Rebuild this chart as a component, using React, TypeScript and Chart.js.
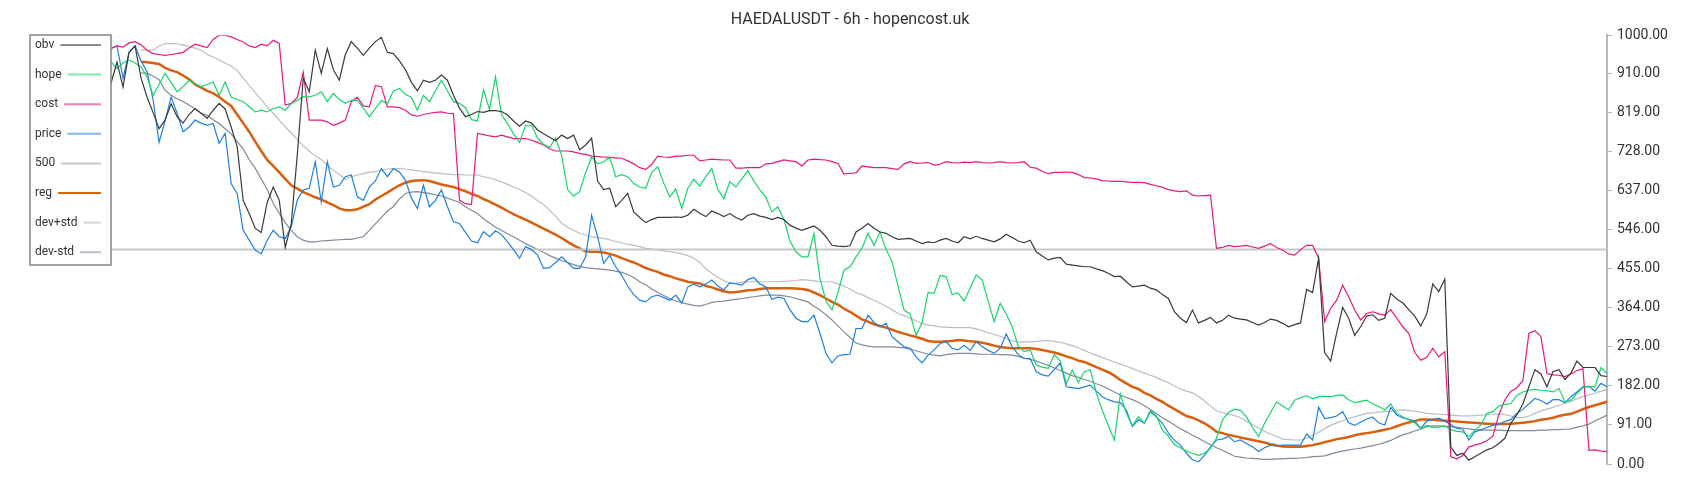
import React, { useEffect, useRef } from "react";
import { Chart, registerables } from "chart.js";

Chart.register(...registerables);

const TITLE = "HAEDALUSDT - 6h - hopencost.uk";
const yTicks = [0, 91, 182, 273, 364, 455, 546, 637, 728, 819, 910, 1000];
const level500 = 500;

const obv = [
  888, 937, 879, 960, 975, 900, 856, 820, 782, 802,
  840, 810, 795, 815, 829, 818, 806, 825, 841, 828,
  786, 740, 615, 584, 550, 540, 610, 646, 615, 505,
  560, 720, 900, 868, 965, 911, 969, 920, 895, 955,
  985, 970, 953, 970, 985, 995, 960, 957, 940, 920,
  890, 870, 895, 890, 895, 907, 895, 860, 830, 810,
  815, 822, 820, 824, 824, 822, 814, 800, 788, 800,
  795, 779, 770, 762, 754, 767, 759, 767, 733, 744,
  760, 660, 640, 643, 600, 615, 631, 588, 575, 563,
  570, 575, 575, 575, 576, 575, 580, 594, 585, 577,
  590, 584, 577, 584, 575, 569, 580, 584, 578, 575,
  570, 575, 570, 557, 550, 545, 550, 555, 545, 530,
  510, 508, 507, 509, 541, 550, 561, 550, 541, 538,
  530, 524, 525, 526, 520, 514, 518, 516, 522, 526,
  520, 516, 530, 525, 531, 526, 522, 518, 525, 536,
  528, 520, 516, 522, 495, 485, 476, 480, 482, 466,
  464, 462, 460, 460, 455, 451, 445, 437, 438, 425,
  413, 415, 417, 410, 406, 395, 386, 355, 340, 330,
  359, 329, 335, 342, 329, 335, 347, 340, 338, 336,
  330, 324, 330, 338, 335, 328, 320, 325, 329, 407,
  400, 480, 260, 240, 305, 365, 340, 300, 320, 345,
  348, 335, 340, 398, 385, 376, 360, 345, 322, 350,
  420, 402, 431, 40, 20, 25, 9, 17, 25, 33,
  38, 48, 60, 95, 115, 140, 180, 220, 210, 180,
  215, 220, 197, 212, 240, 225, 225, 225, 206, 204,
];

const hope = [
  938, 922, 935, 942, 935, 926, 903, 860, 885, 911,
  890, 868, 880, 895, 887, 880, 885, 891, 860, 891,
  856, 850, 845, 833, 821, 825, 821, 829, 833, 825,
  840, 848, 856, 856, 860, 868, 845, 864, 850, 841,
  848, 848, 830, 810, 829, 848, 840, 870, 876, 862,
  855, 825, 860, 845, 870, 895, 870, 845, 841, 831,
  803, 800, 873, 827, 903, 814, 794, 770, 750, 790,
  790, 760, 745, 738, 760, 720, 640, 625, 635, 680,
  716, 700, 705, 716, 670, 675, 670, 654, 646, 643,
  680, 693, 655, 623, 641, 596, 643, 664, 648, 670,
  689, 640, 619, 658, 646, 665, 684, 660, 639, 622,
  588, 600, 570, 520, 495, 483, 483, 538, 433, 380,
  360, 400, 452, 460, 483, 503, 538, 510, 541, 500,
  472, 415, 359, 350, 300, 330, 400, 398, 440, 437,
  395, 399, 380, 410, 441, 429, 380, 332, 375, 350,
  320, 275, 262, 266, 231, 226, 223, 255, 240, 188,
  219, 190, 215, 220, 165, 125, 90, 56, 163, 118,
  89, 110, 95, 125, 112, 79, 65, 45, 38, 30,
  25, 20, 25, 37, 60, 103, 120, 128, 125, 110,
  85, 64, 95, 120, 145, 135, 126, 149, 155, 159,
  152, 157, 158, 157, 160, 161, 150, 143, 146, 149,
  140, 134, 126, 140, 118, 110, 103, 96, 83, 90,
  85, 86, 89, 80, 76, 75, 64, 79, 91, 118,
  122, 135, 139, 141, 160, 168, 172, 174, 172, 171,
  168, 176, 145, 149, 165, 178, 181, 180, 225, 211,
];

const cost = [
  969, 975, 972, 982, 985, 978, 965, 957, 955, 953,
  955, 957, 960, 970, 979, 975, 971, 990, 1000, 1000,
  996, 990, 984, 975, 971, 979, 975, 988, 981, 837,
  841, 855, 914, 802, 802, 802, 798, 790, 795, 802,
  845, 855, 835, 833, 883, 880, 833, 833, 831, 825,
  814, 811, 815, 818, 820, 821, 818, 817, 615, 607,
  605, 771, 768, 765, 763, 767, 763, 759, 759, 759,
  755, 750, 744, 735, 730, 730, 730, 728, 724, 722,
  718, 717, 716, 715, 714, 713, 707, 700, 691, 687,
  699, 718, 716, 715, 718, 718, 720, 720, 707, 709,
  711, 710, 709, 709, 690, 690, 691, 691, 691, 700,
  701, 705, 709, 707, 705, 695, 709, 711, 710, 709,
  705, 701, 676, 678, 679, 695, 693, 691, 691, 691,
  689, 687, 700, 705, 701, 702, 703, 697, 699, 705,
  703, 702, 704, 703, 705, 703, 702, 703, 705, 703,
  702, 703, 705, 692, 690, 682, 677, 680, 680, 681,
  680, 675, 668, 667, 665, 661, 660, 659, 659, 658,
  657, 657, 656, 652, 649, 645, 640, 637, 635, 637,
  627, 625, 626, 627, 503, 505, 510, 507, 508, 510,
  506, 503, 508, 514, 505, 499, 490, 487, 500, 510,
  510, 480, 332, 363, 382, 417, 390, 359, 336, 351,
  355, 350, 347, 360, 340, 320, 305, 260, 242, 249,
  270, 250, 262, 17, 12, 20, 40, 44, 48, 54,
  65, 115, 150, 170, 178, 195, 305, 311, 297, 211,
  208, 207, 204, 210, 218, 222, 32, 33, 30, 29,
];

const price = [
  969, 975, 900, 960, 975, 940, 915, 850, 750, 800,
  856, 818, 775, 786, 802, 795, 790, 794, 748, 771,
  654, 631, 545, 522, 499, 490, 522, 545, 530, 526,
  553, 615, 639, 643, 705, 611, 705, 646, 650, 670,
  674, 623, 615, 646, 660, 689, 670, 689, 681, 662,
  620, 596, 650, 600, 615, 639, 600, 565, 561, 540,
  520, 516, 542, 530, 544, 535, 518, 500, 480, 507,
  500, 487, 456, 458, 470, 483, 470, 456, 456, 483,
  580, 530, 468, 487, 460, 440, 415, 395, 382, 378,
  390, 394, 388, 382, 394, 375, 413, 420, 413, 420,
  429, 415, 406, 423, 420, 417, 430, 435, 420, 413,
  384, 389, 386, 360, 340, 332, 332, 347, 305, 258,
  236, 252, 255, 256, 316, 316, 347, 330, 320, 328,
  297, 285, 273, 270, 250, 236, 254, 266, 281, 285,
  270, 266, 277, 265, 285, 274, 265, 258, 270, 303,
  274, 255, 246, 246, 215, 208, 205, 220, 236, 180,
  178, 176, 180, 184, 170, 157, 150, 145, 143, 126,
  87, 103, 95, 122, 110, 95, 72, 55, 44, 25,
  10, 5, 20, 40, 56, 58, 64, 52, 56, 48,
  40, 29, 38, 44, 42, 44, 44, 44, 44, 70,
  56, 132, 106, 108, 112, 122, 96, 90, 98, 105,
  109, 96, 91, 132, 114, 108, 104, 100, 83, 100,
  104, 107, 100, 92, 83, 81, 56, 75, 80, 85,
  90, 93, 99, 104, 118, 128, 140, 153, 148, 140,
  150, 150, 143, 157, 168, 180, 181, 170, 188, 180,
];

const reg = [
  null, null, null, null, null, 938, 937, 935, 933, 924,
  918, 914, 906, 897, 885, 878, 870, 865, 856, 845,
  835, 815, 795, 775, 752, 730, 709, 695, 680, 665,
  650, 642, 634, 628, 622, 617, 610, 604, 596, 592,
  592, 594, 600, 606, 617, 625, 633, 642, 650, 656,
  660, 661, 662, 660, 656, 652, 649, 646, 641, 636,
  630, 625, 618, 612, 605, 598, 590, 583, 576, 570,
  563, 556, 549, 542, 535, 527, 518, 510, 503, 496,
  495, 495, 493, 490, 486, 480, 475, 470, 464, 457,
  452, 448, 442, 438, 433, 429, 425, 423, 421, 415,
  412, 407, 403, 400, 401, 403, 405, 406, 408, 410,
  410, 410, 410, 410, 409, 408, 406, 400, 394, 386,
  378, 372, 362, 355, 346, 337, 332, 326, 322, 318,
  313, 308, 304, 300, 296, 292, 287, 285, 285, 286,
  287, 289, 288, 286, 285, 283, 280, 276, 273, 271,
  270, 270, 270, 270, 268, 266, 263, 260, 256, 251,
  247, 241, 238, 232, 226, 220, 214, 206, 196, 188,
  180, 175, 166, 160, 152, 145, 136, 128, 120, 112,
  108, 102, 95, 86, 75, 72, 68, 65, 62, 59,
  56, 53, 50, 46, 43, 41, 40, 40, 40, 42,
  44, 47, 51, 54, 58, 60, 63, 67, 70, 72,
  74, 77, 80, 83, 88, 93, 97, 100, 104, 104,
  103, 102, 101, 100, 99, 98, 97, 96, 95, 94,
  93, 93, 93, 94, 95, 96, 98, 100, 103, 105,
  108, 112, 115, 117, 122, 128, 133, 137, 141, 145,
];

const devPlus = [
  null, null, null, null, null, 965, 965, 965, 975, 980,
  981, 980, 977, 973, 970, 965, 955, 949, 942, 935,
  928, 918, 900, 883, 866, 850, 833, 818, 802, 786,
  772, 757, 742, 730, 718, 710, 697, 685, 675, 664,
  670, 674, 677, 680, 682, 685, 688, 689, 689, 688,
  686, 684, 682, 680, 679, 677, 676, 675, 675, 674,
  674, 674, 670, 667, 663, 658, 652, 646, 640, 633,
  625, 614, 605, 592, 578, 562, 552, 545, 538, 534,
  530, 528, 526, 523, 519, 516, 512, 510, 507, 503,
  501, 499, 497, 495, 493, 490, 486, 480, 470, 455,
  445, 435, 428, 421, 422, 424, 425, 425, 425, 425,
  425, 425, 426, 427, 428, 430, 429, 427, 425, 425,
  425, 420, 415, 408, 400, 395, 388, 382, 375, 368,
  360, 351, 346, 340, 334, 328, 324, 322, 320, 319,
  318, 318, 318, 318, 315, 311, 306, 302, 298, 292,
  287, 285, 285, 285, 286, 287, 288, 286, 284, 280,
  276, 271, 265, 259, 254, 248, 243, 238, 233, 228,
  223, 217, 212, 207, 202, 195, 190, 182, 175, 170,
  166, 158, 147, 135, 124, 120, 116, 113, 108, 100,
  92, 84, 76, 70, 64, 58, 57, 56, 56, 60,
  67, 74, 82, 90, 96, 101, 106, 110, 114, 118,
  119, 121, 122, 123, 125, 126, 125, 123, 121, 118,
  117, 116, 115, 114, 113, 112, 112, 113, 114, 115,
  116, 117, 115, 112, 108, 108, 112, 118, 124, 128,
  132, 137, 141, 146, 152, 157, 161, 165, 170, 174,
];

const devMinus = [
  null, null, null, null, null, 912, 911, 905, 896, 872,
  860, 852, 845, 837, 828, 818, 813, 803, 794, 782,
  770, 752, 735, 710, 690, 665, 640, 608, 585, 563,
  545, 530, 522, 518, 518, 520, 521, 522, 523, 524,
  524, 527, 530, 545, 560, 575, 590, 600, 618, 631,
  634, 635, 633, 631, 628, 625, 620, 615, 610, 600,
  592, 584, 572, 562, 552, 545, 537, 530, 522, 514,
  507, 500, 494, 486, 480, 474, 470, 465, 461, 458,
  456, 455, 454, 452, 450, 447, 442, 435, 425, 418,
  408, 400, 393, 386, 380, 376, 373, 370, 368, 372,
  377, 379, 380, 382, 384, 386, 388, 390, 392, 394,
  394, 394, 392, 390, 386, 382, 378, 368, 359, 348,
  336, 322, 308, 295, 282, 278, 275, 273, 273, 273,
  273, 272, 271, 268, 264, 260, 256, 254, 252, 255,
  257, 258, 258, 258, 257, 256, 256, 256, 255, 255,
  254, 251, 247, 244, 240, 235, 230, 224, 218, 212,
  206, 202, 197, 193, 187, 182, 175, 168, 161, 155,
  150, 144, 136, 127, 118, 108, 100, 91, 82, 75,
  67, 60, 52, 45, 38, 32, 25, 18, 16, 14,
  13, 12, 11, 11, 12, 12, 13, 13, 14, 15,
  17, 18, 19, 23, 27, 30, 33, 35, 37, 40,
  43, 46, 50, 55, 62, 68, 72, 77, 82, 87,
  89, 89, 88, 87, 86, 84, 82, 80, 79, 79,
  79, 79, 78, 78, 78, 78, 78, 78, 79, 79,
  80, 80, 81, 82, 86, 89, 93, 101, 107, 114,
];

const xLabels = price.map((_, i) => String(i));
const line500 = xLabels.map(() => level500);

const legendItems = [
  { label: "obv", color: "#8c8c8c" },
  { label: "hope", color: "#80e8a9" },
  { label: "cost", color: "#ec7cb8" },
  { label: "price", color: "#7cb6ee" },
  { label: "500", color: "#c8c8c8" },
  { label: "reg", color: "#d9640f" },
  { label: "dev+std", color: "#d2d6da" },
  { label: "dev-std", color: "#b9c0c7" },
];

const boxLegend = {
  id: "boxLegend",
  afterDraw(chart: any) {
    const ctx = chart.ctx;
    ctx.save();
    const x0 = 22;
    const y0 = 27;
    const w = 81;
    const h = 230;
    const step = 29.6;
    ctx.fillStyle = "#ffffff";
    ctx.fillRect(x0, y0, w, h);
    ctx.strokeStyle = "#858585";
    ctx.lineWidth = 1.5;
    ctx.strokeRect(x0, y0, w, h);
    ctx.font = "12px Roboto";
    ctx.textBaseline = "middle";
    ctx.textAlign = "left";
    legendItems.forEach((it, k) => {
      const y = y0 + 10 + k * step;
      ctx.fillStyle = "#333333";
      ctx.fillText(it.label, x0 + 5, y);
      const tw = ctx.measureText(it.label).width;
      ctx.strokeStyle = it.color;
      ctx.lineWidth = 2;
      ctx.beginPath();
      ctx.moveTo(x0 + 5 + tw + 6, y);
      ctx.lineTo(x0 + w - 10, y);
      ctx.stroke();
    });
    ctx.restore();
  },
};

function ds(label: string, data: any[], color: string, width: number) {
  return {
    label,
    data,
    borderColor: color,
    backgroundColor: color,
    borderWidth: width,
    pointRadius: 0,
    pointHoverRadius: 0,
    fill: false,
    tension: 0,
    yAxisID: "y",
    spanGaps: false,
  };
}

export default function App() {
  const ref = useRef<HTMLCanvasElement>(null);
  useEffect(() => {
    Chart.defaults.font.family = "Roboto";
    const chart = new Chart(ref.current as HTMLCanvasElement, {
      type: "line",
      data: {
        labels: xLabels,
        datasets: [
          ds("obv", obv, "#3a3a3a", 1.2),
          ds("hope", hope, "#19d36c", 1.2),
          ds("cost", cost, "#e6197f", 1.2),
          ds("price", price, "#1f80de", 1.2),
          ds("500", line500, "#c8c8c8", 2),
          ds("reg", reg, "#d95f0e", 2.5),
          ds("dev+std", devPlus, "#b6bec6", 1.2),
          ds("dev-std", devMinus, "#7f8b97", 1.2),
        ],
      },
      options: {
        animation: false,
        responsive: true,
        maintainAspectRatio: false,
        layout: { padding: { top: 0, right: 0, bottom: 28, left: 0 } },
        plugins: {
          legend: { display: false },
          tooltip: { enabled: false },
          title: {
            display: true,
            text: TITLE,
            color: "#333333",
            font: { family: "Roboto", size: 16, weight: "normal" },
            padding: { top: 2, bottom: 6 },
          },
        },
        scales: {
          x: { display: false },
          y: {
            position: "right",
            min: 0,
            max: 1000,
            afterBuildTicks: (s: any) => {
              s.ticks = yTicks.map((v) => ({ value: v }));
            },
            afterFit: (s: any) => {
              s.width = 85;
            },
            ticks: {
              callback: (v: any) => Number(v).toFixed(2),
              color: "#333333",
              font: { family: "Roboto", size: 14 },
              padding: 5,
            },
            grid: {
              drawOnChartArea: false,
              drawTicks: true,
              tickLength: 5,
              color: "#b0b8c0",
            },
            border: { display: true, color: "#b0b8c0", width: 2 },
          },
          yLeft: {
            position: "left",
            display: true,
            ticks: { display: false },
            grid: { display: false, drawTicks: false },
            border: { display: false },
            afterFit: (s: any) => {
              s.width = 103;
            },
          },
        },
      },
      plugins: [boxLegend],
    } as any);
    return () => chart.destroy();
  }, []);
  return (
    <div style={{ position: "relative", width: "100%", height: "484px" }}>
      <canvas ref={ref} />
    </div>
  );
}
